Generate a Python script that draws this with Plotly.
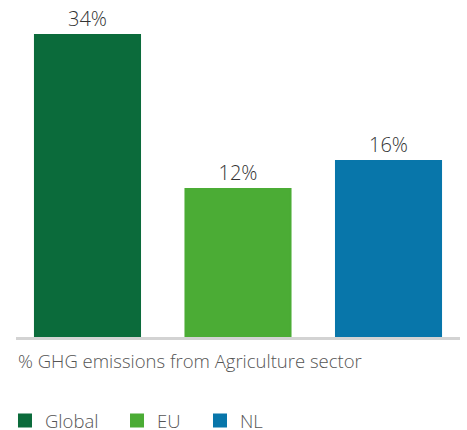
import plotly.graph_objects as go

categories = ["Global", "EU", "NL"]
values = [34, 12, 16]
labels = ["34%", "12%", "16%"]
colors = ["#0B6B3B", "#4BAC35", "#0876AA"]

# the reference bars rise from a floor below zero
AXIS_FLOOR = -9.14
AXIS_TOP = 39.0

legend_ids = ["legend", "legend2", "legend3"]
legend_x = [-0.0248, 0.2275, 0.4144]

fig = go.Figure()
for i, (c, v, t, col) in enumerate(zip(categories, values, labels, colors)):
    fig.add_trace(go.Bar(
        x=[i], y=[v - AXIS_FLOOR], base=[AXIS_FLOOR], name=c,
        marker=dict(color=col, line=dict(width=2, color=col)),
        width=0.698, text=[t], textposition="outside",
        textfont=dict(size=20, color="#333333", family="Open Sans", weight=300),
        cliponaxis=False, hoverinfo="skip", legend=legend_ids[i],
    ))

legend_common = dict(orientation="h", xanchor="left", y=-0.2493, yanchor="middle",
                     font=dict(size=18.5, color="#555555", family="Open Sans", weight=300),
                     bgcolor="rgba(0,0,0,0)")

layout_legends = {}
for lid, lx in zip(legend_ids, legend_x):
    layout_legends[lid] = dict(legend_common, x=lx)

fig.update_layout(
    width=467, height=430,
    margin=dict(l=16, r=7, t=0, b=93, autoexpand=False),
    plot_bgcolor="white", paper_bgcolor="white",
    barmode="overlay",
    font=dict(family="Open Sans", color="#555555"),
    xaxis=dict(range=[-0.475, 2.475], showticklabels=False, showgrid=False,
               zeroline=False, showline=True, linecolor="#D3D3D3", linewidth=3,
               fixedrange=True),
    yaxis=dict(range=[AXIS_FLOOR, AXIS_TOP], visible=False, fixedrange=True),
    showlegend=True,
    annotations=[dict(text="% GHG emissions from Agriculture sector", xref="paper", yref="paper",
                      x=0, y=0, xanchor="left", yanchor="middle", yshift=-23, showarrow=False,
                      font=dict(size=18.5, color="#555555", family="Open Sans", weight=300))],
    **layout_legends,
)
fig.write_html("out.html")
